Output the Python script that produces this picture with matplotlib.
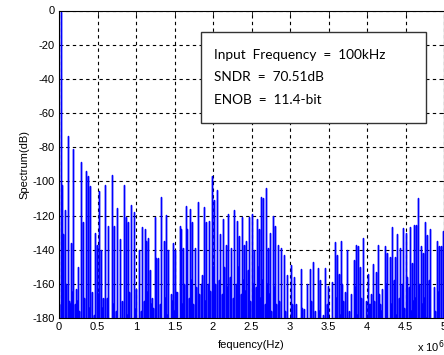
import numpy as np
import matplotlib
matplotlib.use("Agg")
import matplotlib.pyplot as plt
from matplotlib.patches import Rectangle

# ---- data (frequency in MHz, level in dB) ----
peak_mhz = [
    0.006, 0.026, 0.043, 0.056, 0.078, 0.091, 0.121, 0.136, 0.152, 0.166,
    0.186, 0.208, 0.227, 0.247, 0.282, 0.309, 0.347, 0.381, 0.403, 0.429,
    0.468, 0.490, 0.523, 0.545, 0.571, 0.597, 0.640, 0.684, 0.714, 0.757,
    0.796, 0.844, 0.870, 0.896, 0.931, 0.970, 0.996, 1.039, 1.082, 1.113,
    1.134, 1.156, 1.186, 1.208, 1.243, 1.264, 1.286, 1.329, 1.360, 1.394,
    1.416, 1.451, 1.481, 1.510, 1.532, 1.568, 1.588, 1.610, 1.645, 1.666,
    1.705, 1.731, 1.762, 1.805, 1.840, 1.883, 1.913, 1.948, 1.983, 2.009,
    2.052, 2.095, 2.126, 2.169, 2.199, 2.234, 2.277, 2.312, 2.342, 2.377,
    2.406, 2.429, 2.471, 2.503, 2.536, 2.571, 2.601, 2.623, 2.653, 2.688,
    2.710, 2.744, 2.775, 2.805, 2.840, 2.883, 2.918, 2.961, 3.009, 3.052,
    3.074, 3.139, 3.182, 3.225, 3.256, 3.299, 3.325, 3.368, 3.390, 3.429,
    3.455, 3.494, 3.542, 3.581, 3.614, 3.636, 3.658, 3.688, 3.714, 3.744,
    3.788, 3.831, 3.853, 3.887, 3.909, 3.948, 3.983, 4.009, 4.039, 4.056,
    4.078, 4.113, 4.143, 4.169, 4.199, 4.230, 4.264, 4.299, 4.329, 4.364,
    4.394, 4.429, 4.471, 4.503, 4.523, 4.558, 4.588, 4.610, 4.640, 4.662,
    4.697, 4.731, 4.749, 4.783, 4.818, 4.870, 4.905, 4.935, 4.957, 4.991,
]
peak_db = [
    -172, -1, -102, -131, -117, -160, -73.5, -170, -136, -165,
    -81, -172, -163, -150, -88.5, -124, -94, -97, -103, -165,
    -130, -137, -105.5, -140, -168, -102, -126, -96, -126, -115.5,
    -134, -102, -121, -124, -114, -118, -163, -140, -127, -128,
    -135, -133, -152, -168, -121, -145, -145, -109, -135, -119.5,
    -140, -166, -136, -140, -165, -126, -128, -139, -114.5, -128,
    -116, -124, -139, -112, -160, -115, -124, -123, -97, -111,
    -105, -131, -122, -137, -119, -139, -117, -123, -132, -121,
    -137, -135, -121, -119, -140, -122, -128, -109, -110, -104,
    -139, -130, -120, -126, -137, -139, -143, -155, -149, -156,
    -172, -151.6, -175, -160, -151.6, -147.4, -176, -151, -158, -178,
    -151, -161, -159, -135.7, -143, -154, -135, -170, -165, -140,
    -166, -146, -137, -138, -150, -133, -170, -154, -172, -166,
    -148.6, -153, -137, -172, -163, -137.8, -142, -144, -126.5, -144,
    -131, -139, -127.6, -130, -156, -126.5, -148, -125.5, -125.5, -110,
    -138, -142, -124, -131.5, -128, -162, -135, -138, -138, -129,
]
# short spikes of the noise floor between two neighbouring peaks
floor_db = [
    -190, -176, -150, -188, -172, -186, -195, -172, -190, -175,
    -186, -194, -170, -176, -192, -168, -194, -174, -196, -178,
    -192, -166, -195, -174, -196, -168, -190, -172, -176, -192,
    -170, -195, -178, -165, -194, -175, -188, -176, -170, -180,
    -165, -195, -172, -174, -166, -188, -172, -182, -168, -178,
    -195, -170, -176, -165, -186, -172, -172, -160, -180, -168,
    -158, -172, -162, -166, -155, -170, -160, -164, -150, -160,
    -158, -166, -150, -162, -156, -168, -160, -150, -166, -158,
    -164, -152, -170, -160, -162, -150, -168, -158, -172, -160,
    -166, -176, -162, -172, -170, -184, -176, -188, -172, -192,
    -196, -174, -196, -194, -170, -196, -192, -176, -190, -196,
    -172, -184, -195, -168, -196, -178, -160, -190, -182, -176,
    -186, -162, -178, -196, -168, -194, -190, -172, -186, -192,
    -170, -195, -166, -176, -192, -160, -190, -172, -158, -178,
    -168, -160, -174, -195, -162, -176, -170, -168, -184, -160,
    -172, -168, -180, -158, -195, -176, -165, -194, -182,
]

x_ticks = [0, 0.5, 1, 1.5, 2, 2.5, 3, 3.5, 4, 4.5, 5]
x_ticklabels = ["0", "0.5", "1", "1.5", "2", "2.5", "3", "3.5", "4", "4.5", "5"]
y_ticks = list(range(-180, 1, 20))

info_lines = ["Input  Frequency  =  100kHz", "SNDR  =  70.51dB", "ENOB  =  11.4-bit"]

# 每个频点画成从底部升起的竖线（峰值 + 峰间的噪底小尖）
f_pts = []
db_pts = []
for i in range(len(peak_mhz)):
    f_pts.append(peak_mhz[i])
    db_pts.append(peak_db[i])
    if i < len(peak_mhz) - 1:
        f_pts.append((peak_mhz[i] + peak_mhz[i + 1]) / 2)
        db_pts.append(floor_db[i])

bottom = -200.0
f_path = []
db_path = []
for f, v in zip(f_pts, db_pts):
    f_path += [f, f, f]
    db_path += [bottom, v, bottom]

plt.rcParams['font.family'] = ['Liberation Sans', 'DejaVu Sans']
plt.rcParams['axes.unicode_minus'] = False

fig = plt.figure(figsize=(4.44, 3.55), dpi=100)
ax = fig.add_axes([59 / 444, 1 - 318 / 355, 385 / 444, 307.5 / 355])

ax.plot(f_path, db_path, color='#0000ff', lw=1.0, zorder=2)

ax.set_xlim(0, 5)
ax.set_ylim(-180, 0)
ax.set_xticks(x_ticks)
ax.set_xticklabels(x_ticklabels)
ax.set_yticks(y_ticks)
ax.tick_params(direction='in', length=3, labelsize=8, pad=3,
               top=True, right=True, width=0.6)
ax.grid(True, color='black', linestyle=(0, (3, 3)), linewidth=0.8, zorder=1)
for s in ax.spines.values():
    s.set_linewidth(0.8)

ax.set_ylabel("Spectrum(dB)", fontsize=8, labelpad=2)
ax.set_xlabel("fequency(Hz)", fontsize=8, labelpad=6)
fig.text(417 / 444, 1 - 352 / 355, r"x 10$^6$", fontsize=8, ha='left', va='baseline')

# 信息框
ax.add_patch(Rectangle((0.369, 0.634), 0.584, 0.296, transform=ax.transAxes,
                       facecolor='white', edgecolor='#333333', lw=1.0, zorder=5))
for k, txt in enumerate(info_lines):
    y = 1 - (55 + 22.3 * k) / 355
    fig.text(214 / 444, y, txt, fontsize=9.8, family='Lato', va='center',
             ha='left', zorder=6)

fig.savefig("out.png", dpi=100)
